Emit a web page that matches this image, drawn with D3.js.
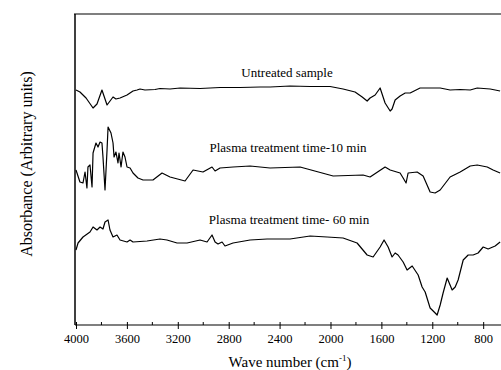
<!DOCTYPE html>
<html><head><meta charset="utf-8">
<script src="https://cdn.jsdelivr.net/npm/d3@7"></script>
<style>body{margin:0;background:#fff}svg{display:block}text{font-family:"Liberation Serif","Times New Roman",serif;fill:#000}</style>
</head><body><svg id="c" width="501" height="370"></svg>
<script>
const majorTicks = [4000, 3600, 3200, 2800, 2400, 2000, 1600, 1200, 800];
const minorTicks = [3800, 3400, 3000, 2600, 2200, 1800, 1400, 1000];
const seriesNames = ["Untreated sample", "Plasma treatment time-10 min", "Plasma treatment time- 60 min"];

const untreatedWN = [4000,3969,3921,3866,3835,3796,3756,3709,3686,3654,3599,3552,3520,3497,3458,3379,3340,3261,3182,3025,2868,2711,2553,2475,2318,2160,2003,1901,1807,1751,1712,1689,1649,1610,1571,1531,1516,1492,1453,1413,1374,1296,1138,1060,981,902,847,745,667];
const untreatedAbs = [2.35,2.33,2.27,2.17,2.21,2.35,2.20,2.28,2.26,2.27,2.30,2.34,2.35,2.36,2.35,2.355,2.365,2.36,2.37,2.365,2.375,2.375,2.38,2.38,2.39,2.385,2.385,2.36,2.33,2.28,2.24,2.27,2.30,2.37,2.22,2.14,2.16,2.25,2.29,2.32,2.32,2.37,2.37,2.35,2.355,2.35,2.37,2.36,2.34];

const t10WN = [4000,3969,3945,3929,3914,3906,3890,3874,3866,3843,3827,3811,3796,3788,3772,3756,3748,3725,3709,3701,3686,3670,3662,3646,3631,3615,3599,3575,3552,3513,3473,3434,3395,3324,3261,3143,3080,3002,2931,2907,2868,2766,2632,2475,2239,1979,1744,1689,1571,1531,1453,1429,1406,1390,1319,1272,1241,1217,1178,1138,1060,981,902,847,768,722,667];
const t10Abs = [1.55,1.43,1.42,1.53,1.37,1.58,1.60,1.38,1.72,1.82,1.78,1.83,1.82,1.68,1.35,1.75,1.98,1.92,1.82,1.68,1.73,1.62,1.72,1.58,1.73,1.68,1.58,1.57,1.52,1.47,1.45,1.45,1.45,1.52,1.48,1.44,1.55,1.53,1.58,1.54,1.57,1.58,1.59,1.57,1.58,1.49,1.50,1.48,1.58,1.55,1.52,1.47,1.42,1.52,1.53,1.49,1.40,1.33,1.32,1.35,1.48,1.53,1.59,1.60,1.58,1.55,1.52];

const t60WN = [4000,3984,3945,3890,3866,3835,3811,3788,3772,3748,3733,3709,3678,3654,3599,3575,3552,3442,3340,3285,3206,3127,3025,2970,2931,2907,2884,2852,2829,2766,2632,2498,2318,2160,2027,1901,1791,1712,1665,1610,1579,1547,1516,1492,1469,1429,1398,1358,1311,1280,1256,1217,1193,1162,1138,1115,1083,1044,1020,997,957,918,879,840,800,761,706,667];
const t60Abs = [0.75,0.82,0.88,0.93,0.98,0.95,0.98,0.96,1.03,1.05,0.95,0.88,0.90,0.85,0.83,0.85,0.83,0.84,0.86,0.85,0.82,0.82,0.85,0.83,0.90,0.83,0.81,0.83,0.79,0.82,0.85,0.86,0.86,0.89,0.88,0.87,0.82,0.70,0.68,0.78,0.85,0.78,0.68,0.72,0.70,0.63,0.55,0.59,0.50,0.38,0.33,0.17,0.14,0.10,0.20,0.32,0.47,0.35,0.38,0.45,0.65,0.70,0.70,0.72,0.78,0.76,0.79,0.83];

const svg = d3.select("#c");
const x = d3.scaleLinear().domain([4000, 660]).range([76, 501]);
const y = d3.scaleLinear().domain([0, 3.11]).range([325, 14]);

// frame: top line and left axis
svg.append("line").attr("x1", 74).attr("x2", 501).attr("y1", 14).attr("y2", 14).attr("stroke", "#000").attr("stroke-width", 1.2);
svg.append("line").attr("x1", 75).attr("x2", 75).attr("y1", 14).attr("y2", 325).attr("stroke", "#000").attr("stroke-width", 1.5);

// x axis
const xAxis = d3.axisBottom(x).tickValues(majorTicks).tickSize(4).tickSizeOuter(0).tickFormat(d3.format("d"));
const gx = svg.append("g").attr("transform", "translate(0,325)").call(xAxis);
gx.select(".domain").attr("d", "M75,0H501").attr("stroke-width", 1.2);
gx.selectAll(".tick line").attr("y1", -3).attr("stroke-width", 1);
gx.selectAll(".tick text").attr("font-size", 12.5).attr("dy", "0.9em").style("font-family", '"Liberation Serif",serif');
const gm = svg.append("g").attr("transform", "translate(0,325)");
gm.selectAll("line").data(minorTicks).join("line")
  .attr("x1", d => x(d)).attr("x2", d => x(d)).attr("y1", -3).attr("y2", 0).attr("stroke", "#000");

// axis titles
const xt = svg.append("text").attr("x", 290).attr("y", 367).attr("text-anchor", "middle").attr("font-size", 15);
xt.append("tspan").text("Wave number (cm");
xt.append("tspan").attr("font-size", 9).attr("dy", -6).text("-1");
xt.append("tspan").attr("dy", 6).text(")");
svg.append("text").attr("transform", "translate(32,164) rotate(-90)").attr("text-anchor", "middle").attr("font-size", 16).text("Absorbance (Arbitrary units)");

// curves
const line = d3.line().x(d => x(d[0])).y(d => y(d[1]));
const series = [[untreatedWN, untreatedAbs], [t10WN, t10Abs], [t60WN, t60Abs]];
series.forEach(([wn, ab]) => {
  svg.append("path").datum(wn.map((w, i) => [w, ab[i]]))
    .attr("d", line).attr("fill", "none").attr("stroke", "#000").attr("stroke-width", 1.2).attr("stroke-linejoin", "round");
});

// labels
const labelPos = [[287, 77], [288, 152], [289, 224]];
seriesNames.forEach((n, i) => {
  svg.append("text").attr("x", labelPos[i][0]).attr("y", labelPos[i][1]).attr("text-anchor", "middle").attr("font-size", 13).text(n);
});
</script></body></html>
